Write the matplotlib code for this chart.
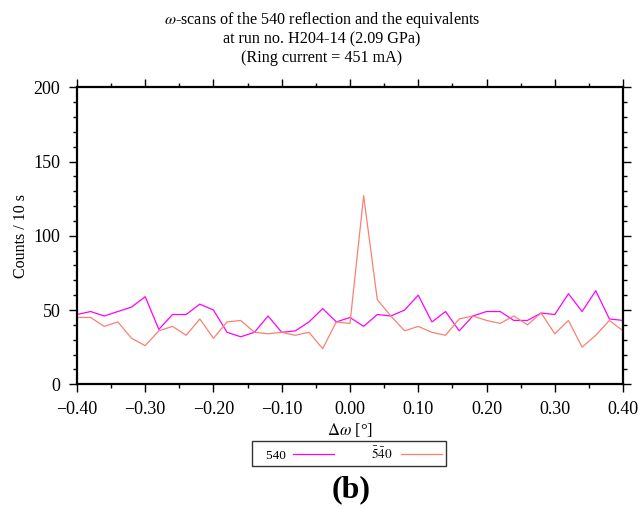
import matplotlib
matplotlib.use('Agg')
import matplotlib.pyplot as plt
import numpy as np

plt.rcParams['font.family'] = ['Liberation Serif', 'DejaVu Serif']
plt.rcParams['mathtext.fontset'] = 'stix'

# omega offsets (deg), step 0.02
domega = np.round(np.arange(-0.40, 0.401, 0.02), 2)

counts_540 = [47, 49, 46, 49, 52, 59, 37, 47, 47, 54, 50, 35, 32, 35, 46, 35, 36, 42, 51, 42,
              45, 39, 47, 46, 50, 60, 42, 49, 36, 46, 49, 49, 43, 43, 48, 47, 61, 49, 63, 44, 43]
counts_bar = [45, 45, 39, 42, 31, 26, 36, 39, 33, 44, 31, 42, 43, 35, 34, 35, 33, 35, 24, 42,
              41, 127, 57, 46, 36, 39, 35, 33, 44, 46, 43, 41, 46, 40, 48, 34, 43, 25, 33, 43, 36]

fig = plt.figure(figsize=(6.41, 5.09), dpi=100)
ax = fig.add_axes([0.120, 0.245, 0.852, 0.5835])

ax.plot(domega, counts_540, color='#ff00ff', lw=0.9, label='540')
ax.plot(domega, counts_bar, color='#fa8072', lw=0.9, label=r'$\bar{5}\bar{4}0$')

xt = np.arange(-0.40, 0.401, 0.10)
ax.set_xlim(-0.40, 0.40)
ax.set_ylim(0, 200)
ax.set_xticks(xt)
ax.set_xticklabels(['\u2212%.2f' % abs(v) if v < -1e-9 else '%.2f' % abs(v) for v in xt])
ax.set_xticks(np.arange(-0.40, 0.401, 0.05), minor=True)
ax.set_yticks(np.arange(0, 201, 50))
ax.set_yticks(np.arange(0, 201, 10), minor=True)
ax.tick_params(which='both', direction='out', top=True, right=True, width=1)
ax.tick_params(which='major', length=6, labelsize=13, pad=6)
ax.tick_params(which='minor', length=3)

for s in ax.spines.values():
    s.set_linewidth(1.6)

ax.set_xlabel(r'$\Delta\omega$ [°]', fontsize=12, labelpad=2)
ax.set_ylabel('Counts / 10 s', fontsize=11.5, labelpad=3)

fig.text(0.502, 0.961, r'$\omega$-scans of the 540 reflection and the equivalents',
         ha='center', va='center', fontsize=11.6)
fig.text(0.502, 0.923, 'at run no. H204-14 (2.09 GPa)', ha='center', va='center', fontsize=11.6)
fig.text(0.502, 0.886, '(Ring current = 451 mA)', ha='center', va='center', fontsize=11.6)

leg = fig.legend(loc='center', bbox_to_anchor=(0.544, 0.109), ncol=2, markerfirst=False,
                 fontsize=9.5, frameon=True, fancybox=False, edgecolor='black',
                 handlelength=3.1, handletextpad=0.6, columnspacing=2.8, borderpad=0.3,
                 borderaxespad=0)
leg.get_frame().set_linewidth(1.0)
# gnuplot-style key leaves extra room left of the first label
first = leg.get_texts()[0]
first.set_text('   ' + first.get_text())

fig.text(0.548, 0.037, '(b)', ha='center', va='center', fontsize=23, fontweight='bold')

fig.savefig('out.png', dpi=100)
